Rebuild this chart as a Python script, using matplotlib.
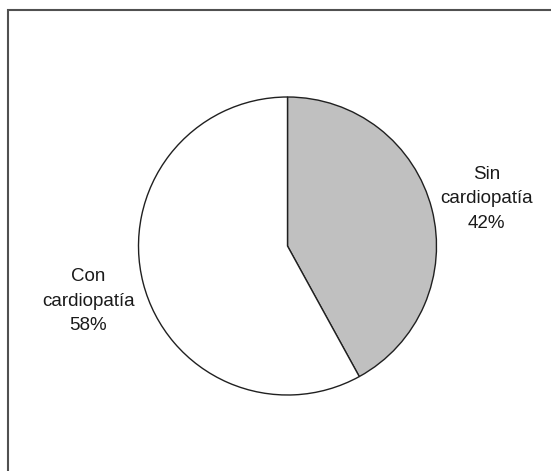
import matplotlib.pyplot as plt
from matplotlib.patches import Rectangle

# pacientes con / sin cardiopatía (%)
categories = ["Sin\ncardiopatía", "Con\ncardiopatía"]
values = [42, 58]
colors = ["#c0c0c0", "#ffffff"]

plt.rcParams['font.family'] = ['Liberation Sans', 'DejaVu Sans']

W, H = 551, 471
fig = plt.figure(figsize=(W / 100, H / 100), dpi=100)
ax = fig.add_axes([0, 0, 1, 1])
ax.set_xlim(0, W)
ax.set_ylim(0, H)
ax.set_aspect('equal')
ax.axis('off')

# outer frame, runs off the right and bottom edges
ax.add_patch(Rectangle((7.5, -20), W + 20, H - 9.5 + 20, fill=False,
                       edgecolor='#505050', linewidth=1.5))

labels = [f"{c}\n{v}%" for c, v in zip(categories, values)]
wedges, texts = ax.pie(values, labels=labels, colors=colors,
                       startangle=90, counterclock=False,
                       center=(287.5, H - 246), radius=149,
                       labeldistance=1.38,
                       wedgeprops=dict(edgecolor='#202020', linewidth=1.0),
                       textprops=dict(fontsize=13.5, color='#1a1a1a',
                                      linespacing=1.6))
for t in texts:
    x, y = t.get_position()
    t.set_position((x, y - 4))
    t.set_ha('center')
    t.set_multialignment('center')

ax.set_xlim(0, W)
ax.set_ylim(0, H)

fig.savefig('out.png', dpi=100)
